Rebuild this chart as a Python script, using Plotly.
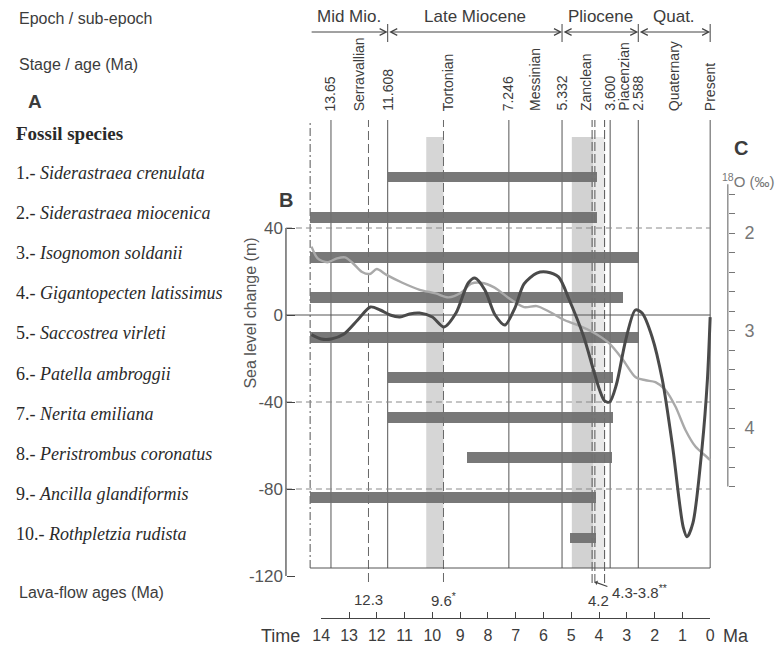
import plotly.graph_objects as go

W, H = 778, 645

# ---------------- data ----------------
species = ["Siderastraea crenulata", "Siderastraea miocenica", "Isognomon soldanii",
           "Gigantopecten latissimus", "Saccostrea virleti", "Patella ambroggii",
           "Nerita emiliana", "Peristrombus coronatus", "Ancilla glandiformis",
           "Rothpletzia rudista"]
range_start_ma = [11.608, 14.4, 14.4, 14.4, 14.4, 11.608, 11.608, 8.75, 14.4, 5.05]
range_end_ma = [4.07, 4.07, 2.55, 3.12, 2.55, 3.5, 3.5, 3.52, 4.1, 4.1]

sea_age = [14.35, 14.0, 13.64, 13.18, 12.69, 12.23, 11.88, 11.52, 11.17, 10.82, 10.46,
           10.0, 9.58, 9.15, 8.71, 8.47, 8.11, 7.74, 7.39, 7.03, 6.70, 6.24, 5.89, 5.46,
           5.07, 4.56, 4.20, 3.98, 3.80, 3.62, 3.38, 3.04, 2.69, 2.45, 2.09, 1.72, 1.35,
           0.97, 0.83, 0.62, 0.29, 0.10, 0.0]
sea_level = [-9, -11, -11, -8.7, -2.3, 3.7, 2.3, 0, -0.9, 0.5, 0.9, -0.9, -5.5, 0.9,
             14.7, 17.0, 11.5, 0, -4.6, 3.2, 14.3, 19.3, 19.8, 17.5, 6.9, -9.7, -25.3,
             -34.5, -39.5, -40, -32.2, -11.5, 2.3, 0.9, -10.1, -29.9, -60.7, -97.5,
             -102, -95.6, -60.7, -29.9, -1]

d18o_age = [14.35, 14.13, 13.78, 13.43, 13.14, 12.86, 12.53, 12.25, 12.0, 11.65, 11.08,
            10.48, 9.88, 9.42, 8.96, 8.60, 8.25, 7.76, 7.19, 6.70, 6.24, 5.77, 5.27,
            4.81, 4.20, 3.64, 3.14, 2.68, 2.32, 1.97, 1.61, 1.25, 0.89, 0.53, 0.11, 0.0]
d18o = [2.14, 2.26, 2.30, 2.26, 2.25, 2.31, 2.40, 2.42, 2.37, 2.43, 2.51, 2.58, 2.62,
        2.66, 2.61, 2.52, 2.51, 2.56, 2.68, 2.76, 2.75, 2.81, 2.89, 2.94, 3.02, 3.13,
        3.30, 3.48, 3.51, 3.53, 3.61, 3.78, 4.02, 4.19, 4.30, 4.33]

stage_bounds = [13.65, 11.608, 7.246, 5.332, 3.6, 2.588, 0]
stage_bound_labels = ["13.65", "11.608", "7.246", "5.332", "3.600", "2.588", "Present"]
stage_names = ["Serravallian", "Tortonian", "Messinian", "Zanclean", "Piacenzian", "Quaternary"]

epoch_names = ["Mid Mio.", "Late Miocene", "Pliocene", "Quat."]
epoch_bounds = [14.4, 11.608, 5.332, 2.588, 0]

lava_single = [12.3, 9.6]
lava_single_labels = ["12.3", "9.6<sup>*</sup>"]
lava_pair = [4.25, 4.15]
lava_range = [4.3, 3.8]

band_mid_miocene = [10.22, 9.6]
band_pliocene_dark = [4.98, 4.2]
band_pliocene_light = [4.2, 3.8]

time_ticks = [0, 1, 2, 3, 4, 5, 6, 7, 8, 9, 10, 11, 12, 13, 14]
sea_ticks = [-120, -80, -40, 0, 40]
sea_ticktext = ["-120", "-80", "-40", "0", "40"]
sea_dashed = [40, -40, -80]
d18o_ticks = [1.6, 1.8, 2.0, 2.2, 2.4, 2.6, 2.8, 3.0, 3.2, 3.4, 3.6, 3.8, 4.0, 4.2, 4.4, 4.6]
d18o_ticktext = ["", "", "2", "", "", "", "", "3", "", "", "", "", "4", "", "", ""]

# ---------------- layout helpers ----------------
X_LEFT, X_RIGHT = 25.24, -2.262        # main x range (Ma), full-width domain
FRAME_LEFT = 14.4
Y_AXIS_MA = 15.27                       # position of sea-level axis
C_AXIS_MA = -0.636                      # position of d18O axis


def fx(px):
    return px / W


def fy(py):
    return 1 - py / H


def xpos(ma):
    return (X_LEFT - ma) / (X_LEFT - X_RIGHT)


SANS = "Liberation Sans, Arial, sans-serif"
SERIF = "Liberation Serif, Times New Roman, serif"
DARK = "#3c3c3c"

fig = go.Figure()

rows = list(range(1, len(species) + 1))
fig.add_trace(go.Bar(
    y=rows, x=[s - e for s, e in zip(range_start_ma, range_end_ma)], base=range_end_ma,
    orientation="h", width=0.27, marker=dict(color="#717171", line=dict(width=0)),
    xaxis="x", yaxis="y", showlegend=False, hoverinfo="skip", opacity=0.95))

fig.add_trace(go.Scatter(
    x=d18o_age, y=d18o, mode="lines",
    line=dict(color="#a9a9a9", width=2.4, shape="spline", smoothing=0.8),
    xaxis="x", yaxis="y2", showlegend=False, hoverinfo="skip"))

fig.add_trace(go.Scatter(
    x=sea_age, y=sea_level, mode="lines",
    line=dict(color="#4a4a4a", width=3, shape="spline", smoothing=0.8),
    xaxis="x", yaxis="y3", showlegend=False, hoverinfo="skip"))

fig.add_trace(go.Scatter(x=[None], y=[None], xaxis="x2", yaxis="y", showlegend=False,
                         hoverinfo="skip", mode="markers"))

shapes = []
for (a, b), col in [(band_mid_miocene, "#d6d6d6"), (band_pliocene_dark, "#d2d2d2"),
                    (band_pliocene_light, "#e9e9e9")]:
    shapes.append(dict(type="rect", xref="x", yref="paper", x0=a, x1=b, y0=fy(568), y1=fy(137),
                       fillcolor=col, line=dict(width=0), layer="below"))

LINE_TOP = fy(120)
FRAME_BOTTOM = fy(568)
shapes.append(dict(type="line", xref="x", yref="paper", x0=FRAME_LEFT, x1=FRAME_LEFT,
                   y0=FRAME_BOTTOM, y1=LINE_TOP,
                   line=dict(color="#555", width=1, dash="8px,3px,2px,3px"), layer="below"))
for b in stage_bounds:
    shapes.append(dict(type="line", xref="x", yref="paper", x0=b, x1=b, y0=FRAME_BOTTOM, y1=LINE_TOP,
                       line=dict(color="#555", width=1), layer="below"))
for b in lava_single:
    shapes.append(dict(type="line", xref="x", yref="paper", x0=b, x1=b, y0=fy(582), y1=LINE_TOP,
                       line=dict(color="#666", width=1, dash="9px,4px"), layer="below"))
for b in lava_pair + [lava_range[1]]:
    shapes.append(dict(type="line", xref="x", yref="paper", x0=b, x1=b, y0=fy(583), y1=LINE_TOP,
                       line=dict(color="#555", width=1, dash="9px,3px"), layer="below"))
shapes.append(dict(type="line", xref="x", yref="paper", x0=FRAME_LEFT, x1=0, y0=FRAME_BOTTOM,
                   y1=FRAME_BOTTOM, line=dict(color="#555", width=1), layer="below"))

for v in sea_dashed:
    shapes.append(dict(type="line", xref="x", yref="y3", x0=Y_AXIS_MA, x1=0, y0=v, y1=v,
                       line=dict(color="#8a8a8a", width=1, dash="6px,4px"), layer="below"))
shapes.append(dict(type="line", xref="x", yref="y3", x0=Y_AXIS_MA, x1=0, y0=0, y1=0,
                   line=dict(color="#555", width=1), layer="below"))
shapes.append(dict(type="line", xref="x", yref="y3", x0=Y_AXIS_MA, x1=Y_AXIS_MA, y0=sea_ticks[0],
                   y1=sea_ticks[-1], line=dict(color="#444", width=1.2)))
shapes.append(dict(type="line", xref="x", yref="y2", x0=C_AXIS_MA, x1=C_AXIS_MA, y0=1.5, y1=4.6,
                   line=dict(color="#777", width=1.2)))
for b in epoch_bounds[1:]:
    shapes.append(dict(type="line", xref="x", yref="paper", x0=b, x1=b, y0=fy(42), y1=fy(24),
                       line=dict(color="#444", width=1)))


def text_ann(x, y, text, size, xanchor="center", yanchor="middle", xref="paper", yref="paper",
             family=SANS, color=DARK, **kw):
    d = dict(x=x, y=y, xref=xref, yref=yref, text=text, showarrow=False, xanchor=xanchor,
             yanchor=yanchor, font=dict(family=family, size=size, color=color))
    d.update(kw)
    return d


ann = []
for i, name in enumerate(epoch_names):
    a, b = epoch_bounds[i], epoch_bounds[i + 1]
    ann.append(dict(x=b, y=fy(32), xref="x", yref="paper", ax=a, ay=0, axref="x", ayref="pixel",
                    text="", showarrow=True, arrowhead=5, startarrowhead=5,
                    arrowside="end" if i == 0 else "end+start", arrowsize=1.3, startarrowsize=1.3,
                    arrowwidth=1, arrowcolor="#444", standoff=0, startstandoff=0))
    ann.append(text_ann((a + b) / 2, fy(17), name, 17, xref="x"))

for b, lab in zip(stage_bounds, stage_bound_labels):
    ann.append(text_ann(b, fy(113), lab, 14, yanchor="bottom", xref="x", textangle=-90))
for i, name in enumerate(stage_names):
    mid = (stage_bounds[i] + stage_bounds[i + 1]) / 2
    ann.append(text_ann(mid, fy(113), name, 14, yanchor="bottom", xref="x", textangle=-90))

ann += [
    text_ann(fx(8), fy(19), "Epoch / sub-epoch", 16, xanchor="left"),
    text_ann(fx(8), fy(65), "Stage / age (Ma)", 16, xanchor="left"),
    text_ann(fx(17), fy(102), "<b>A</b>", 19, xanchor="left"),
    text_ann(fx(5), fy(133), "<b>Fossil species</b>", 19, xanchor="left", family=SERIF, color="#2a2a2a"),
    text_ann(fx(8), fy(592), "Lava-flow ages (Ma)", 16, xanchor="left"),
    text_ann(fx(282), fy(200), "<b>B</b>", 20),
    text_ann(fx(745), fy(148), "<b>C</b>", 20),
    text_ann(fx(753), fy(180), "<sup>18</sup>O (‰)", 15, color="#777"),
    text_ann(fx(245), fy(313), "Sea level change (m)", 16, color="#555", textangle=-90),
    text_ann(fx(276), fy(636), "Time", 18),
    text_ann(fx(740), fy(636), "Ma", 18),
]
for r, name in zip(rows, species):
    ann.append(text_ann(fx(5), r, f"{r}.- <i>{name}</i>", 18, xanchor="left", yref="y",
                        family=SERIF, color="#2a2a2a", yshift=4))

for v, lab in zip(lava_single, lava_single_labels):
    ann.append(text_ann(v, fy(599), lab, 15, xref="x"))
ann.append(text_ann(sum(lava_pair) / 2, fy(600), "4.2", 15, xref="x", xshift=5))
ann.append(text_ann(lava_range[1], fy(591), f"{lava_range[0]}-{lava_range[1]}<sup>**</sup>", 15,
                    xanchor="left", xref="x", xshift=5))
ann.append(dict(x=lava_pair[1], y=fy(582), xref="x", yref="paper", ax=14, ay=5, text="",
                showarrow=True, arrowhead=1, arrowsize=0.7, arrowwidth=1.2, arrowcolor="#444"))

fig.update_layout(
    width=W, height=H, autosize=False, margin=dict(l=0, r=0, t=0, b=0),
    paper_bgcolor="white", plot_bgcolor="rgba(0,0,0,0)", showlegend=False, bargap=0,
    xaxis=dict(domain=[0, 1], range=[X_LEFT, X_RIGHT], visible=False, anchor="y", fixedrange=True),
    xaxis2=dict(domain=[xpos(14), xpos(0)], range=[14, 0], anchor="free", position=fy(618),
                showline=True, linecolor="#444", linewidth=1.2, ticks="inside", ticklen=6,
                tickcolor="#444", tickvals=time_ticks, ticktext=[str(t) for t in time_ticks],
                tickfont=dict(family=SANS, size=16, color=DARK), showgrid=False, zeroline=False,
                ticklabelstandoff=3),
    yaxis=dict(domain=[0, 1], range=[12.668, -3.413], visible=False, fixedrange=True),
    yaxis2=dict(overlaying="y", anchor="free", position=xpos(C_AXIS_MA), side="right",
                range=[6.2256, -0.3897], showline=False, ticks="outside", ticklen=6, tickcolor="#777",
                tickvals=d18o_ticks, ticktext=d18o_ticktext, showgrid=False, zeroline=False,
                tickfont=dict(family=SANS, size=18, color="#777"), ticklabelstandoff=6),
    yaxis3=dict(overlaying="y", anchor="free", position=xpos(Y_AXIS_MA), side="left",
                range=[-151.72, 144.83], showline=False, ticks="inside", ticklen=8, tickcolor="#444",
                tickvals=sea_ticks, ticktext=sea_ticktext, showgrid=False, zeroline=False,
                tickfont=dict(family=SANS, size=17, color="#555"), ticklabelstandoff=3),
    shapes=shapes, annotations=ann,
)

fig.write_html("out.html", config={"displayModeBar": False, "staticPlot": True},
               post_script="document.body.style.margin='0px';")
